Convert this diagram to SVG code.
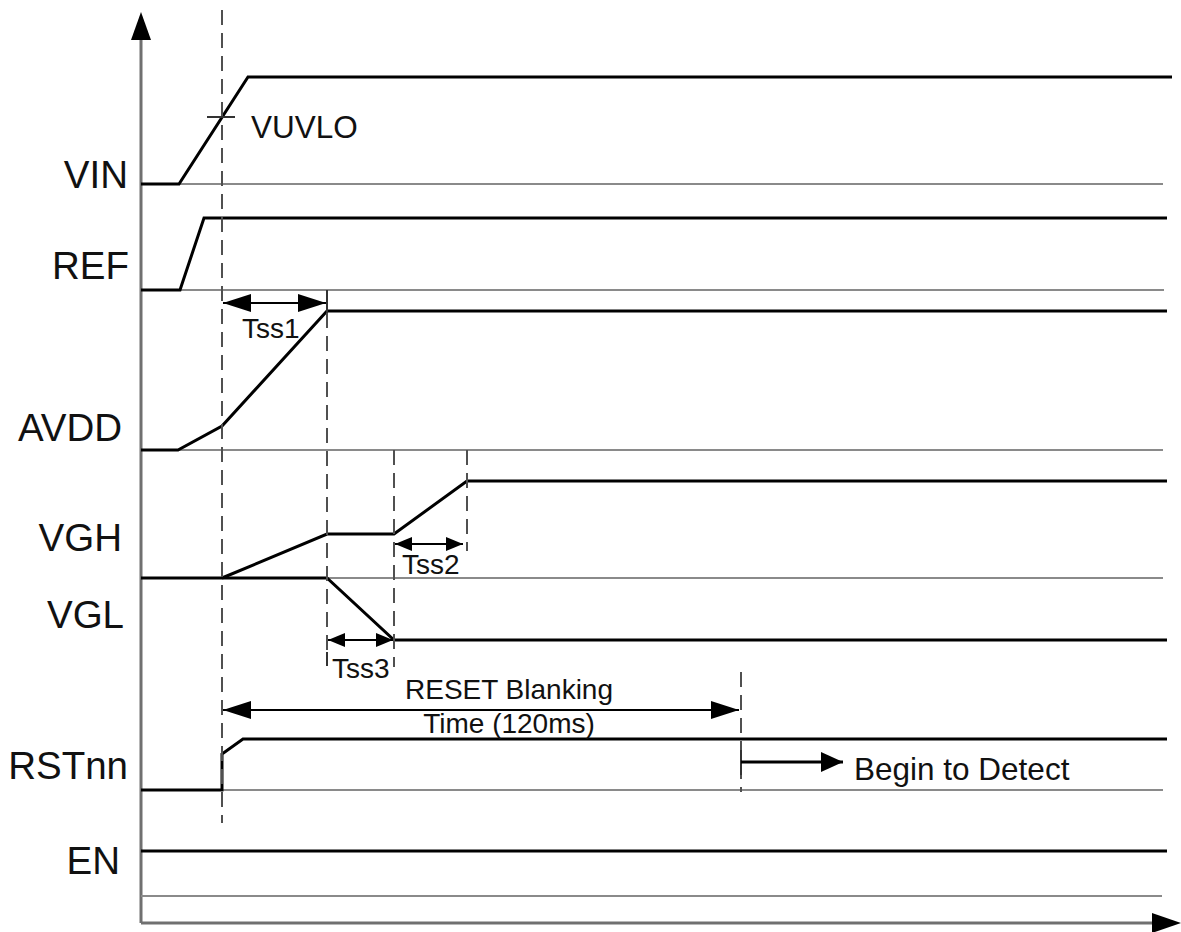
<svg xmlns="http://www.w3.org/2000/svg" width="1181" height="932" viewBox="0 0 1181 932">
<style>
.sig{fill:none;stroke:#000;stroke-width:3;stroke-linejoin:miter}
.base{fill:none;stroke:#8a8a8a;stroke-width:2}
.axis{fill:none;stroke:#707070;stroke-width:3}
.dash{fill:none;stroke:#505050;stroke-width:2;stroke-dasharray:15 8}
.dim{fill:none;stroke:#000;stroke-width:2}
.tick{fill:none;stroke:#333;stroke-width:2}
.lbl{font-family:"Liberation Sans",Arial,sans-serif;font-size:38.5px;fill:#111;text-anchor:end}
.note{font-family:"Liberation Sans",Arial,sans-serif;font-size:28px;fill:#111}
.note2{font-family:"Liberation Sans",Arial,sans-serif;font-size:31.5px;fill:#111}
</style>
<defs>
<marker id="ab" markerUnits="userSpaceOnUse" markerWidth="28" markerHeight="18" refX="28" refY="9" orient="auto-start-reverse"><path d="M0,0 L28,9 L0,18 z" fill="#000"/></marker>
<marker id="as" markerUnits="userSpaceOnUse" markerWidth="17" markerHeight="14" refX="17" refY="7" orient="auto-start-reverse"><path d="M0,0 L17,7 L0,14 z" fill="#000"/></marker>
<marker id="am" markerUnits="userSpaceOnUse" markerWidth="22" markerHeight="20" refX="22" refY="10" orient="auto-start-reverse"><path d="M0,0 L22,10 L0,20 z" fill="#000"/></marker>
</defs>

<g id="axes">
<line class="axis" x1="141" y1="923" x2="141" y2="38"/>
<path d="M141,12 L151,40 L131,40 z" fill="#000"/>
<line class="axis" x1="141" y1="923" x2="1154" y2="923"/>
<path d="M1181,923 L1152,913 L1152,933 z" fill="#000"/>
</g>

<g id="baselines">
<line class="base" x1="141" y1="184" x2="1163" y2="184"/>
<line class="base" x1="141" y1="290" x2="1164" y2="290"/>
<line class="base" x1="141" y1="450" x2="1163" y2="450"/>
<line class="base" x1="141" y1="578" x2="1163" y2="578"/>
<line class="base" x1="141" y1="790" x2="1163" y2="790"/>
<line class="base" x1="141" y1="896" x2="1162" y2="896"/>
</g>

<g id="VIN">
<polyline class="sig" points="141,184 179,184 248,77 1172,77"/>
<text class="lbl" x="128" y="188">VIN</text>
</g>
<g id="REF">
<polyline class="sig" points="141,290 180,290 204,218 1167,218"/>
<text class="lbl" x="129" y="279">REF</text>
</g>
<g id="AVDD">
<polyline class="sig" points="141,450 178,450 222,426 327,311 1167,311"/>
<text class="lbl" x="122" y="441">AVDD</text>
</g>
<g id="VGH">
<polyline class="sig" points="222,578 327,534 394,534 467,481 1167,481"/>
<text class="lbl" x="122" y="551">VGH</text>
</g>
<g id="VGL">
<polyline class="sig" points="141,578 327,578 394,640 1167,640"/>
<text class="lbl" x="124" y="628">VGL</text>
</g>
<g id="RSTnn">
<polyline class="sig" points="141,790 222,790 222,754 243,739 1167,739"/>
<text class="lbl" x="128" y="779">RSTnn</text>
</g>
<g id="EN">
<line class="sig" x1="141" y1="851" x2="1167" y2="851"/>
<text class="lbl" x="120" y="874">EN</text>
</g>

<g id="connectors">
<line class="dash" x1="222" y1="10" x2="222" y2="823"/>
<line class="dash" x1="327" y1="290" x2="327" y2="666"/>
<line class="dash" x1="394" y1="450" x2="394" y2="667"/>
<line class="dash" x1="467" y1="450" x2="467" y2="551"/>
<line class="dash" x1="741" y1="672" x2="741" y2="792"/>
<line class="tick" x1="207" y1="117" x2="235" y2="117"/>
<line class="tick" x1="327" y1="290" x2="327" y2="313"/>
<line class="dim" x1="223" y1="303" x2="326" y2="303" marker-start="url(#ab)" marker-end="url(#ab)"/>
<line class="dim" x1="395" y1="544" x2="463" y2="544" marker-start="url(#as)" marker-end="url(#as)"/>
<line class="dim" x1="328" y1="640" x2="393" y2="640" marker-start="url(#as)" marker-end="url(#as)"/>
<line class="tick" x1="327" y1="652" x2="327" y2="666"/>
<line class="dim" x1="223" y1="710" x2="739" y2="710" marker-start="url(#ab)" marker-end="url(#ab)"/>
<line class="tick" x1="741" y1="750" x2="741" y2="775"/>
<line class="sig" x1="741" y1="762" x2="843" y2="762" marker-end="url(#am)"/>
</g>

<g id="labels">
<text class="note2" x="251" y="138">VUVLO</text>
<text class="note" x="242" y="338">Tss1</text>
<text class="note" x="402" y="574">Tss2</text>
<text class="note" x="332" y="678">Tss3</text>
<text class="note" x="509" y="699" text-anchor="middle">RESET Blanking</text>
<text class="note" x="509" y="733" text-anchor="middle">Time (120ms)</text>
<text class="note2" x="854" y="780">Begin to Detect</text>
</g>
</svg>
